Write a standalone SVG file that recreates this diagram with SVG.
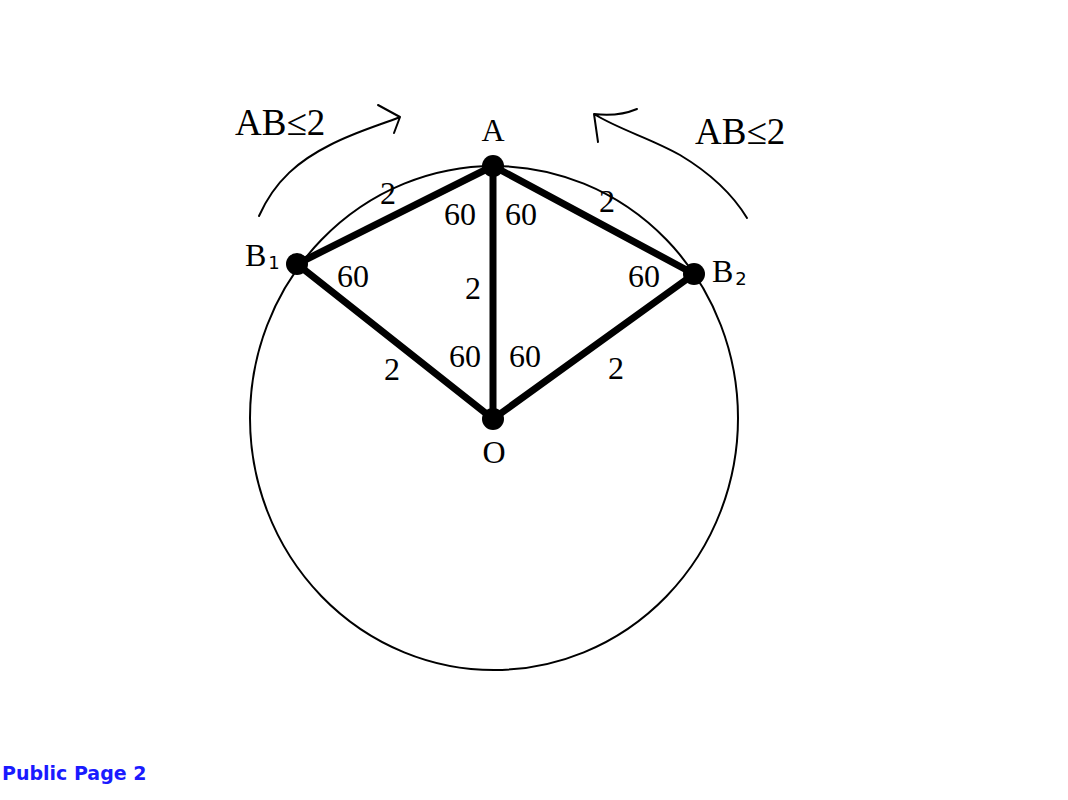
<svg xmlns="http://www.w3.org/2000/svg" width="1068" height="800" viewBox="0 0 1068 800">
<style>
.t{font-family:"Liberation Serif","Times New Roman",serif;fill:#000}
.lb{font-size:37px}
.n{font-size:32px;text-anchor:middle}
.sub{font-family:"DejaVu Sans",sans-serif;font-size:18px}
.edge{stroke:#000;stroke-width:7;stroke-linecap:round;fill:none}
.thin{stroke:#000;stroke-width:2;fill:none;stroke-linecap:round;stroke-linejoin:round}
</style>
<rect width="1068" height="800" fill="#fff"/>
<g id="circle"><ellipse cx="494" cy="418" rx="244" ry="252" fill="none" stroke="#000" stroke-width="2"/></g>
<g id="connectors">
<line class="edge" x1="493" y1="166" x2="297" y2="264"/>
<line class="edge" x1="493" y1="166" x2="694" y2="274"/>
<line class="edge" x1="493" y1="166" x2="493" y2="419"/>
<line class="edge" x1="297" y1="264" x2="493" y2="419"/>
<line class="edge" x1="694" y1="274" x2="493" y2="419"/>
<path class="thin" d="M259,216 C275,180 300,160 330,145 C355,132 380,125 400,117 M378,105 L400,117 L394,133"/>
<path class="thin" d="M747,218 C730,190 705,170 680,155 C650,138 620,130 594,114 M637,109 C625,114 610,116 594,114 L598,142"/>
</g>
<g id="A"><circle cx="493" cy="166" r="11"/><text class="t n" x="493" y="141">A</text></g>
<g id="B1"><circle cx="297" cy="264" r="11"/><text class="t" x="245" y="266" font-size="32">B<tspan class="sub" dx="2" dy="3">1</tspan></text></g>
<g id="B2"><circle cx="694" cy="274" r="11"/><text class="t" x="712" y="282" font-size="32">B<tspan class="sub" dx="2" dy="3">2</tspan></text></g>
<g id="O"><circle cx="493" cy="419" r="11"/><text class="t n" x="494" y="463">O</text></g>
<g id="labels">
<text class="t lb" x="235" y="135">AB≤2</text>
<text class="t lb" x="695" y="144">AB≤2</text>
<text class="t n" x="388" y="204">2</text>
<text class="t n" x="607" y="212">2</text>
<text class="t n" x="473" y="299">2</text>
<text class="t n" x="392" y="380">2</text>
<text class="t n" x="616" y="379">2</text>
<text class="t n" x="460" y="225">60</text>
<text class="t n" x="521" y="225">60</text>
<text class="t n" x="353" y="287">60</text>
<text class="t n" x="644" y="287">60</text>
<text class="t n" x="465" y="367">60</text>
<text class="t n" x="525" y="367">60</text>
</g>
<text x="2" y="780" font-family="DejaVu Sans,sans-serif" font-weight="bold" font-size="19" fill="#1a1aff">Public Page 2</text>
</svg>
